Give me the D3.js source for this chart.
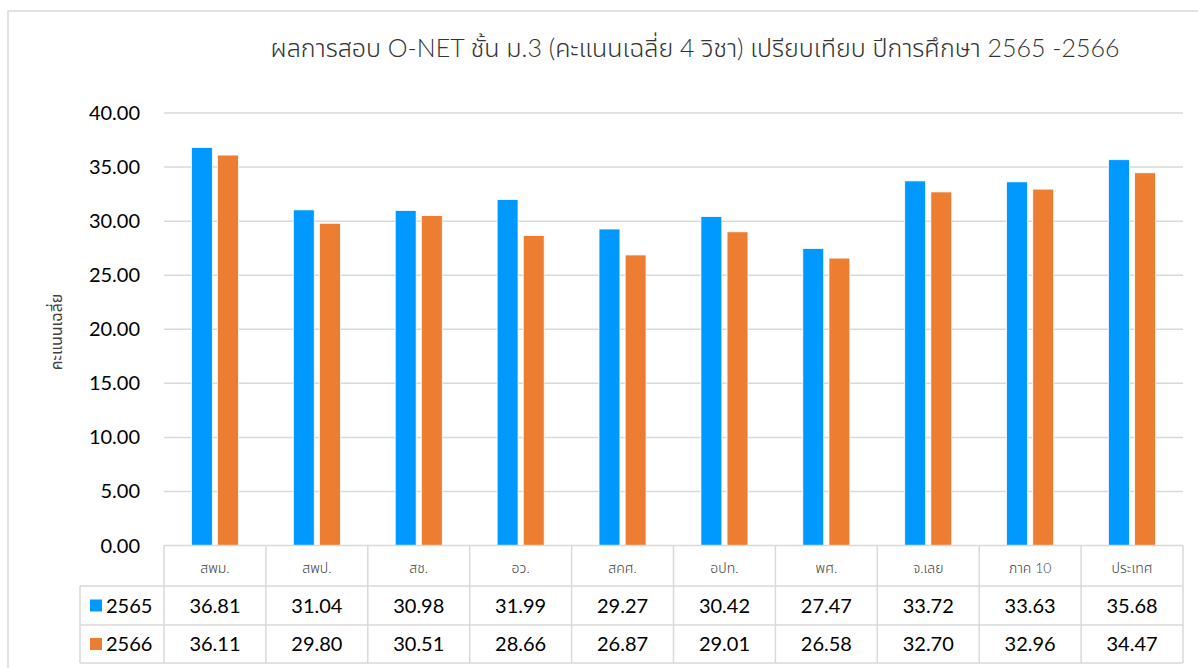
<!DOCTYPE html>
<html lang="th">
<head>
<meta charset="UTF-8">
<title>O-NET ม.3</title>
<script src="https://d3js.org/d3.v7.min.js"></script>
<style>
    body { margin: 0; background: #fff; }
    svg { display: block; }
    text { font-family: Lato, "Noto Sans", "Noto Sans Thai", sans-serif; }
</style>
</head>
<body>
<svg width="1198" height="668"></svg>
<script>
const categories = ["สพม.", "สพป.", "สช.", "อว.", "สคศ.", "อปท.", "พศ.", "จ.เลย", "ภาค 10", "ประเทศ"];
const seriesNames = ["2565", "2566"];
const values2565 = [36.81, 31.04, 30.98, 31.99, 29.27, 30.42, 27.47, 33.72, 33.63, 35.68];
const values2566 = [36.11, 29.80, 30.51, 28.66, 26.87, 29.01, 26.58, 32.70, 32.96, 34.47];
const yTicks = [0, 5, 10, 15, 20, 25, 30, 35, 40];
const colors = ["#0099FF", "#ED7D31"];

const series = [values2565, values2566];
const svg = d3.select("svg");

// outer chart frame
svg.append("rect")
    .attr("x", 8).attr("y", 11)
    .attr("width", 1300).attr("height", 800)
    .attr("fill", "none").attr("stroke", "#d9d9d9").attr("stroke-width", 1.5);

const left = 164, right = 1183;
const y = d3.scaleLinear().domain([0, 40]).range([545.5, 113]);
const x = d3.scaleBand().domain(categories).range([left, right]);
const xs = d3.scaleBand().domain(seriesNames).range([0, x.bandwidth()]).paddingInner(0.2).paddingOuter(1.05);

// title
svg.append("text")
    .attr("x", 695).attr("y", 57)
    .attr("text-anchor", "middle")
    .attr("font-size", 25).attr("font-weight", 300).attr("fill", "#333")
    .text("ผลการสอบ O-NET ชั้น ม.3 (คะแนนเฉลี่ย 4 วิชา) เปรียบเทียบ ปีการศึกษา 2565 -2566");

// gridlines
svg.append("g").selectAll("line")
    .data(yTicks.filter(d => d > 0))
    .join("line")
    .attr("x1", left).attr("x2", right)
    .attr("y1", d => y(d)).attr("y2", d => y(d))
    .attr("stroke", "#d9d9d9").attr("stroke-width", 1.5);

// y tick labels
svg.append("g").selectAll("text")
    .data(yTicks)
    .join("text")
    .attr("x", 140).attr("y", d => y(d) + 7)
    .attr("text-anchor", "end")
    .attr("font-size", 20).attr("fill", "#000")
    .text(d => d.toFixed(2));

// y axis title
svg.append("text")
    .attr("transform", "translate(62,332) rotate(-90)")
    .attr("text-anchor", "middle")
    .attr("font-size", 16).attr("fill", "#404040")
    .text("คะแนนเฉลี่ย");

// bars
series.forEach((vals, i) => {
    svg.append("g").selectAll("rect")
        .data(vals)
        .join("rect")
        .attr("x", (d, j) => x(categories[j]) + xs(seriesNames[i]))
        .attr("width", xs.bandwidth())
        .attr("y", d => y(d))
        .attr("height", d => y(0) - y(d))
        .attr("fill", colors[i])
        .attr("stroke", "#fff").attr("stroke-width", 0.75);
});

// data table
const rowTop = [545.5, 586, 625, 663];
const legLeft = 80;
const tbl = svg.append("g").attr("stroke", "#d9d9d9").attr("stroke-width", 1.5);
tbl.append("line").attr("x1", left).attr("x2", right).attr("y1", rowTop[0]).attr("y2", rowTop[0]);
rowTop.slice(1).forEach(r => {
    tbl.append("line").attr("x1", legLeft).attr("x2", right).attr("y1", r).attr("y2", r);
});
tbl.append("line").attr("x1", legLeft).attr("x2", legLeft).attr("y1", rowTop[1]).attr("y2", rowTop[3]);
categories.concat([null]).forEach(c => {
    const xx = c === null ? right : x(c);
    tbl.append("line").attr("x1", xx).attr("x2", xx).attr("y1", rowTop[0]).attr("y2", rowTop[3]);
});

// category labels
svg.append("g").selectAll("text")
    .data(categories)
    .join("text")
    .attr("x", d => x(d) + x.bandwidth() / 2)
    .attr("y", 573)
    .attr("text-anchor", "middle")
    .attr("font-size", 14).attr("font-weight", 300).attr("fill", "#404040")
    .text(d => d);

// legend keys and values
series.forEach((vals, i) => {
    const cy = (rowTop[i + 1] + rowTop[i + 2]) / 2;
    svg.append("rect")
        .attr("x", 90).attr("y", cy - 6)
        .attr("width", 12).attr("height", 12)
        .attr("fill", colors[i]);
    svg.append("text")
        .attr("x", 106).attr("y", cy + 7)
        .attr("font-size", 20).attr("fill", "#000")
        .text(seriesNames[i]);
    svg.append("g").selectAll("text")
        .data(vals)
        .join("text")
        .attr("x", (d, j) => x(categories[j]) + x.bandwidth() / 2)
        .attr("y", cy + 7)
        .attr("text-anchor", "middle")
        .attr("font-size", 20).attr("fill", "#000")
        .text(d => d.toFixed(2));
});
</script>
</body>
</html>
